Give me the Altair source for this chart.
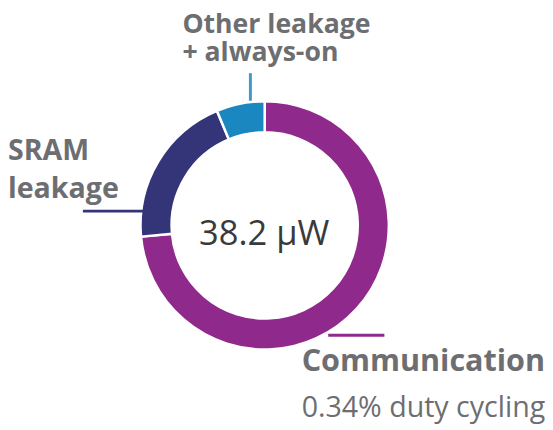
import altair as alt
import pandas as pd

# data
categories = ["Communication", "SRAM leakage", "Other leakage + always-on"]
values_uW = [28.1, 7.7, 2.4]
order = [0, 1, 2]
colors = ["#8F2A8C", "#343479", "#1B87C1"]
total_label = ["38.2 \u00b5W"]
other_label = ["Other leakage", "+ always-on"]
sram_label = ["SRAM", "leakage"]
comm_label = ["Communication"]
comm_sub = ["0.34% duty cycling"]

df = pd.DataFrame({"cat": categories, "val": values_uW, "ord": order})

GRAY = "#6D6E71"
FONT = "Open Sans"

donut = alt.Chart(df).mark_arc(
    outerRadius=126, innerRadius=94.5, stroke="white", strokeWidth=2.5
).encode(
    theta=alt.Theta("val:Q", stack=True),
    order=alt.Order("ord:Q"),
    color=alt.Color("cat:N", scale=alt.Scale(domain=categories, range=colors), legend=None),
    x=alt.value(260.5),
    y=alt.value(217.5),
)

def text_layer(lines, x, y0, dy, size, weight, color, align="left"):
    layers = []
    for i, t in enumerate(lines):
        layers.append(
            alt.Chart(pd.DataFrame({"t": [t]})).mark_text(
                align=align, baseline="alphabetic", font=FONT, fontSize=size,
                fontWeight=weight, color=color
            ).encode(text="t:N", x=alt.value(x), y=alt.value(y0 + i * dy))
        )
    return layers

def rule(x1, x2, y1, y2, color):
    return alt.Chart(pd.DataFrame({"a": [0]})).mark_rule(
        color=color, strokeWidth=3
    ).encode(x=alt.value(x1), x2=alt.value(x2), y=alt.value(y1), y2=alt.value(y2))

layers = [donut]
layers += text_layer(total_label, 260, 237, 0, 35, "normal", "#3A3A3A", align="center")
layers += text_layer(other_label, 177, 22, 29, 27, "bold", GRAY)
layers += text_layer(sram_label, 0, 151, 39, 29, "bold", GRAY)
layers += text_layer(comm_label, 298, 365, 0, 31, "bold", GRAY)
layers += text_layer(comm_sub, 298, 412, 0, 29, "normal", GRAY)
layers += [
    rule(246, 246, 63, 91, "#3D9AC9"),
    rule(76, 137, 203, 203, colors[1]),
    rule(325, 382, 329, 329, colors[0]),
]

chart = alt.layer(*layers).properties(
    width=545, height=422, autosize=alt.AutoSizeParams(type="none"), padding=0
).configure_view(stroke=None)

chart.save("out.html", embed_options={"renderer": "svg", "actions": False})
